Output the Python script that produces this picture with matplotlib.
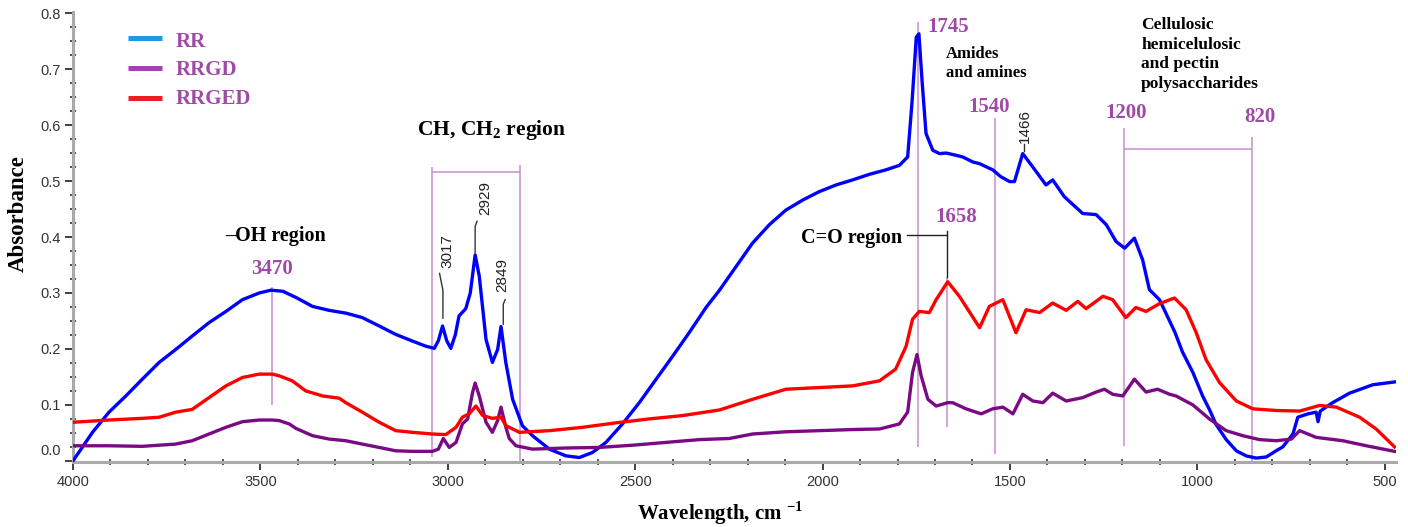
import numpy as np
import matplotlib.pyplot as plt
import matplotlib.transforms as mtransforms
from matplotlib.ticker import MultipleLocator, FormatStrFormatter

plt.rcParams['font.family'] = ['Liberation Sans', 'DejaVu Sans']
plt.rcParams['mathtext.fontset'] = 'custom'
plt.rcParams['mathtext.rm'] = 'Liberation Serif'
plt.rcParams['mathtext.bf'] = 'Liberation Serif:bold'

# FTIR spectra (wavenumber, absorbance)
rr_wn = [4000, 3948, 3904, 3859, 3815, 3770, 3726, 3682, 3637, 3592, 3548, 3503, 3472, 3440,
         3405, 3361, 3317, 3272, 3228, 3183, 3139, 3094, 3059, 3036, 3025, 3014, 3003, 2992,
         2980, 2970, 2952, 2940, 2927, 2916, 2898, 2881, 2867, 2858, 2845, 2827, 2801, 2774,
         2729, 2685, 2649, 2614, 2578, 2534, 2489, 2444, 2400, 2356, 2311, 2275, 2231, 2187,
         2142, 2098, 2053, 2009, 1964, 1920, 1875, 1831, 1795, 1773, 1761, 1750, 1743, 1734,
         1724, 1706, 1688, 1670, 1644, 1626, 1599, 1581, 1546, 1525, 1501, 1488, 1466, 1439,
         1404, 1386, 1355, 1306, 1270, 1243, 1217, 1194, 1168, 1146, 1128, 1101, 1060, 1040,
         1012, 986, 968, 950, 923, 896, 870, 843, 816, 790, 772, 745, 732, 705, 683, 678, 672,
         639, 594, 532, 474]
rr_abs = [0.000, 0.051, 0.087, 0.116, 0.146, 0.176, 0.199, 0.223, 0.247, 0.267, 0.288, 0.300,
          0.305, 0.303, 0.292, 0.276, 0.269, 0.264, 0.256, 0.241, 0.226, 0.214, 0.205, 0.201,
          0.215, 0.241, 0.215, 0.201, 0.225, 0.259, 0.272, 0.300, 0.368, 0.330, 0.217, 0.176,
          0.199, 0.240, 0.175, 0.110, 0.063, 0.045, 0.021, 0.009, 0.006, 0.015, 0.033, 0.066,
          0.104, 0.146, 0.187, 0.229, 0.274, 0.305, 0.347, 0.389, 0.422, 0.448, 0.466, 0.481,
          0.493, 0.502, 0.512, 0.520, 0.528, 0.543, 0.644, 0.757, 0.763, 0.674, 0.585, 0.555,
          0.549, 0.550, 0.546, 0.543, 0.534, 0.531, 0.520, 0.508, 0.499, 0.499, 0.549, 0.525,
          0.493, 0.502, 0.472, 0.442, 0.440, 0.422, 0.392, 0.380, 0.398, 0.359, 0.306, 0.288,
          0.230, 0.195, 0.158, 0.116, 0.092, 0.065, 0.038, 0.018, 0.009, 0.005, 0.007, 0.018,
          0.025, 0.048, 0.078, 0.084, 0.087, 0.070, 0.089, 0.104, 0.121, 0.136, 0.141]

rrgd_wn = [4000, 3904, 3815, 3726, 3682, 3637, 3592, 3548, 3503, 3468, 3450, 3423, 3405, 3361,
           3317, 3272, 3228, 3183, 3139, 3094, 3041, 3025, 3012, 2996, 2978, 2961, 2947, 2934,
           2927, 2916, 2898, 2881, 2867, 2858, 2845, 2836, 2818, 2774, 2685, 2596, 2507, 2418,
           2329, 2249, 2187, 2098, 2009, 1920, 1848, 1795, 1773, 1760, 1748, 1737, 1719, 1697,
           1666, 1653, 1617, 1577, 1546, 1519, 1492, 1466, 1439, 1412, 1386, 1350, 1306, 1270,
           1248, 1226, 1199, 1168, 1137, 1106, 1074, 1057, 1012, 968, 923, 879, 834, 789, 749,
           727, 683, 612, 549, 474]
rrgd_abs = [0.027, 0.027, 0.026, 0.030, 0.036, 0.048, 0.060, 0.070, 0.073, 0.073, 0.072, 0.066,
            0.058, 0.045, 0.039, 0.036, 0.030, 0.024, 0.018, 0.017, 0.017, 0.021, 0.040, 0.024,
            0.033, 0.066, 0.075, 0.122, 0.139, 0.116, 0.069, 0.051, 0.072, 0.096, 0.060, 0.040,
            0.027, 0.021, 0.023, 0.024, 0.028, 0.033, 0.038, 0.040, 0.048, 0.052, 0.054, 0.056,
            0.057, 0.066, 0.087, 0.158, 0.190, 0.152, 0.110, 0.098, 0.104, 0.104, 0.093, 0.084,
            0.093, 0.096, 0.084, 0.119, 0.107, 0.104, 0.121, 0.107, 0.113, 0.123, 0.128, 0.119,
            0.116, 0.146, 0.123, 0.128, 0.119, 0.116, 0.100, 0.075, 0.054, 0.045, 0.038, 0.036,
            0.039, 0.054, 0.042, 0.036, 0.027, 0.017]

rrged_wn = [4000, 3904, 3815, 3770, 3726, 3682, 3637, 3592, 3548, 3503, 3468, 3450, 3415, 3379,
            3334, 3290, 3272, 3228, 3183, 3139, 3094, 3041, 3005, 2978, 2961, 2943, 2925, 2907,
            2881, 2858, 2845, 2809, 2729, 2640, 2551, 2462, 2373, 2275, 2187, 2098, 2009, 1920,
            1848, 1805, 1777, 1760, 1742, 1715, 1697, 1666, 1635, 1581, 1555, 1519, 1484, 1457,
            1421, 1386, 1350, 1319, 1297, 1252, 1226, 1191, 1164, 1137, 1101, 1061, 1030, 1003,
            977, 941, 896, 852, 789, 727, 674, 629, 567, 523, 474]
rrged_abs = [0.069, 0.073, 0.076, 0.078, 0.087, 0.092, 0.113, 0.134, 0.149, 0.155, 0.155, 0.152,
             0.143, 0.125, 0.116, 0.112, 0.104, 0.087, 0.069, 0.054, 0.051, 0.048, 0.047, 0.060,
             0.078, 0.084, 0.098, 0.081, 0.076, 0.078, 0.063, 0.051, 0.054, 0.060, 0.068, 0.075,
             0.081, 0.091, 0.110, 0.128, 0.131, 0.134, 0.143, 0.164, 0.205, 0.253, 0.267, 0.265,
             0.288, 0.320, 0.294, 0.238, 0.276, 0.288, 0.229, 0.270, 0.265, 0.282, 0.269, 0.285,
             0.272, 0.294, 0.288, 0.256, 0.274, 0.267, 0.281, 0.291, 0.270, 0.229, 0.181, 0.140,
             0.107, 0.093, 0.090, 0.089, 0.099, 0.096, 0.078, 0.057, 0.025]

series_names = ['RR', 'RRGD', 'RRGED']
line_colors = ['#0000FF', '#7A0A84', '#FF0000']
legend_colors = ['#1E9BE0', '#9B46A8', '#EE1C25']

x_ticks = [4000, 3500, 3000, 2500, 2000, 1500, 1000, 500]
y_ticks = [0.0, 0.1, 0.2, 0.3, 0.4, 0.5, 0.6, 0.7, 0.8]

SERIF = 'Liberation Serif'
PTXT = '#A04AA8'
GUIDE = '#C98BD2'

fig = plt.figure(figsize=(14.08, 5.27), dpi=100)
ax = fig.add_axes([73 / 1408, 1 - 462 / 527, 1323 / 1408, 450 / 527])

for wn, ab, c in zip([rr_wn, rrgd_wn, rrged_wn], [rr_abs, rrgd_abs, rrged_abs], line_colors):
    ax.plot(wn, ab, color=c, lw=2.4, zorder=3, solid_joinstyle='round')

ax.set_xlim(4000, 470)
ax.set_ylim(-0.002, 0.802)
ax.set_xticks(x_ticks)
ax.set_yticks(y_ticks)
ax.xaxis.set_minor_locator(MultipleLocator(100))
ax.yaxis.set_minor_locator(MultipleLocator(0.025))
ax.yaxis.set_major_formatter(FormatStrFormatter('%.1f'))
ax.tick_params(which='major', direction='out', length=6, width=1.3, color='#333333',
               labelsize=10.5, labelcolor='#333333', pad=3)
ax.tick_params(which='minor', direction='inout', length=4, width=1.2, color='#333333')
for s in ['top', 'right']:
    ax.spines[s].set_visible(False)
for s in ['left', 'bottom']:
    ax.spines[s].set_color('#AAAAAA')
    ax.spines[s].set_linewidth(2.2)

# guide lines (purple)
gk = dict(color=GUIDE, lw=1.1, zorder=2)
ax.vlines(3470, 0.10, 0.31, **gk)
ax.vlines(3042, 0.007, 0.525, **gk)
ax.vlines(2808, 0.0, 0.529, **gk)
ax.hlines(0.516, 3042, 2808, **gk)
ax.vlines(1745, 0.025, 0.784, **gk)
ax.vlines(1667, 0.061, 0.329, **gk)
ax.vlines(1541, 0.012, 0.613, **gk)
ax.vlines(1195, 0.027, 0.595, **gk)
ax.vlines(853, 0.0, 0.579, **gk)
ax.hlines(0.557, 1195, 853, **gk)

# black bracket for the C=O region
ax.plot([1774, 1667, 1667], [0.404, 0.404, 0.329], color='#222222', lw=1.0, zorder=2)
ax.plot([1667, 1667], [0.41, 0.404], color='#222222', lw=1.0, zorder=2)

# peak labels with leaders
peaks = [('3017', 3002, 0.345, [3022, 3013, 3013], [0.335, 0.305, 0.255]),
         ('2929', 2900, 0.440, [2922, 2927, 2927], [0.428, 0.419, 0.372]),
         ('2849', 2855, 0.301, [2847, 2852, 2852], [0.288, 0.280, 0.244]),
         ('1466', 1461, 0.568, [1463, 1463], [0.567, 0.553])]
for lab, x, y, lx, ly in peaks:
    ax.text(x, y, lab, rotation=90, ha='center', va='bottom', fontsize=11, color='#222222')
    ax.plot(lx, ly, color='#333333', lw=1.0, zorder=2)

bold = dict(family=SERIF, fontweight='bold')
ax.text(3461, 0.401, '\u2013OH region', ha='center', va='center', fontsize=14.5, color='black', **bold)
ax.text(3082, 0.591, r'CH, CH$_\mathbf{2}$ region', ha='left', va='center', fontsize=15.5,
        color='black', **bold)
ax.text(1787, 0.399, 'C=O region', ha='right', va='center', fontsize=14.5, color='black', **bold)
ax.text(1670, 0.742, 'Amides\nand amines', ha='left', va='top', fontsize=12, linespacing=1.3,
        color='black', **bold)
ax.text(1150, 0.793, 'Cellulosic\nhemicelulosic\nand pectin\npolysaccharides', ha='left', va='top',
        fontsize=12.5, linespacing=1.3, color='black', clip_on=False, **bold)

for lab, x, y, ha in [('3470', 3470, 0.342, 'center'), ('1745', 1720, 0.776, 'left'),
                      ('1540', 1555, 0.632, 'center'), ('1658', 1643, 0.435, 'center'),
                      ('1200', 1189, 0.622, 'center'), ('820', 834, 0.614, 'center')]:
    ax.text(x, y, lab, ha=ha, va='center', fontsize=15, color=PTXT, **bold)

# legend drawn by hand
for yl, yt, c, lab in zip([0.942, 0.876, 0.809], [0.933, 0.871, 0.807], legend_colors, series_names):
    ax.plot([0.0416, 0.0673], [yl, yl], transform=ax.transAxes, color=c, lw=3.6,
            solid_capstyle='butt')
    ax.text(0.0775, yt, lab, transform=ax.transAxes, ha='left', va='center', fontsize=15,
            color=PTXT, **bold)

fig.text(720 / 1408, 1 - 513 / 527, r'Wavelength, cm $^{\mathbf{-1}}$', ha='center', va='center',
         fontsize=15, **bold)
fig.text(18 / 1408, 1 - 214 / 527, 'Absorbance', rotation=90, ha='center', va='center',
         fontsize=16.5, **bold)

# the 0.0 label sits a little above the axis corner in the original
fig.canvas.draw()
for t in ax.yaxis.get_major_ticks():
    if abs(t.get_loc()) < 1e-9:
        t.label1.set_transform(t.label1.get_transform() +
                               mtransforms.ScaledTranslation(0, 0.11, fig.dpi_scale_trans))

fig.savefig('out.png', dpi=100)
